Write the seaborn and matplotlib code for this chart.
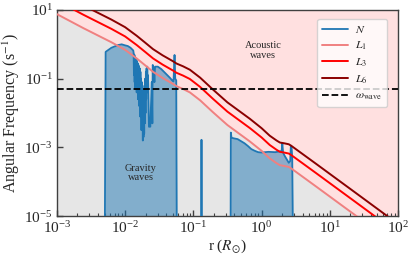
import numpy as np
import pandas as pd
import matplotlib
matplotlib.use("Agg")
import matplotlib.pyplot as plt
import seaborn as sns
from matplotlib.ticker import LogLocator, NullLocator, NullFormatter

# ---------------- data (log10 values) ----------------
lamb_logr = [-3.00, -2.80, -2.61, -2.40, -2.20, -2.00, -1.83, -1.70, -1.59, -1.45,
             -1.30, -1.245, -1.15, -1.05, -0.90, -0.71, -0.50, -0.17, 0.00, 0.12,
             0.22, 0.27, 0.33, 0.40, 0.44, 0.80, 1.37, 2.00]
L1_logf = [0.88, 0.67, 0.47, 0.26, 0.06, -0.16, -0.41, -0.62, -0.80, -0.98,
           -1.15, -1.22, -1.30, -1.40, -1.63, -1.98, -2.35, -2.83, -3.10, -3.32,
           -3.46, -3.52, -3.54, -3.57, -3.62, -4.14, -4.97, -5.89]
L3_logf = [1.27, 1.06, 0.86, 0.65, 0.45, 0.23, -0.02, -0.23, -0.41, -0.59,
           -0.76, -0.83, -0.91, -1.01, -1.24, -1.59, -1.96, -2.44, -2.71, -2.93,
           -3.07, -3.13, -3.15, -3.18, -3.23, -3.75, -4.58, -5.50]
L6_logf = [1.54, 1.33, 1.13, 0.92, 0.72, 0.50, 0.25, 0.04, -0.14, -0.32,
           -0.49, -0.56, -0.64, -0.74, -0.97, -1.32, -1.69, -2.17, -2.44, -2.66,
           -2.80, -2.86, -2.88, -2.91, -2.96, -3.48, -4.31, -5.23]

N_logr = [-3.00, -2.30, -2.285, -2.25, -2.20, -2.15, -2.10, -2.05, -2.00, -1.96,
          -1.92, -1.88, -1.875, -1.87, -1.865, -1.86, -1.855, -1.85, -1.845, -1.84,
          -1.835, -1.83, -1.825, -1.82, -1.815, -1.81, -1.805, -1.80, -1.795, -1.79,
          -1.785, -1.78, -1.775, -1.77, -1.765, -1.76, -1.755, -1.75, -1.745, -1.74,
          -1.735, -1.73, -1.725, -1.72, -1.715, -1.71, -1.705, -1.70, -1.695, -1.69,
          -1.685, -1.68, -1.675, -1.67, -1.665, -1.66, -1.65, -1.63, -1.61, -1.60,
          -1.595, -1.58, -1.57, -1.56, -1.52, -1.47, -1.42, -1.38, -1.34, -1.31,
          -1.29, -1.275, -1.265, -1.25, -1.24, -0.885, -0.88, -0.875, -0.455, -0.45,
          -0.44, -0.40, -0.35, -0.30, -0.25, -0.20, -0.15, -0.10, -0.05, 0.00,
          0.10, 0.20, 0.27, 0.295, 0.305, 0.315, 0.34, 0.37, 0.40, 0.42,
          0.43, 0.44, 0.45, 0.466, 2.00]
N_logf = [-7.0, -7.0, -0.22, -0.17, -0.10, -0.06, -0.02, 0.00, -0.03, -0.05,
          -0.10, -0.18, -0.25, -0.90, -0.30, -1.10, -0.35, -1.30, -0.40, -1.00,
          -0.45, -1.40, -0.50, -1.20, -0.55, -1.60, -0.60, -1.30, -0.65, -1.80,
          -0.70, -2.10, -0.80, -1.70, -1.00, -2.50, -1.10, -2.20, -1.30, -2.80,
          -1.50, -2.70, -1.40, -2.60, -1.20, -2.30, -1.00, -2.00, -0.80, -1.60,
          -0.70, -1.40, -0.65, -1.20, -0.90, -1.20, -2.40, -2.40, -1.10, -2.30,
          -0.60, -0.70, -1.10, -0.65, -0.65, -0.72, -0.82, -0.90, -0.98, -1.05,
          -1.08, -0.31, -1.00, -1.05, -7.0, -7.0, -2.78, -7.0, -7.0, -2.57,
          -2.72, -2.74, -2.76, -2.82, -2.88, -2.96, -3.05, -3.10, -3.14, -3.15,
          -3.13, -3.14, -3.12, -3.10, -2.88, -3.15, -3.25, -3.35, -3.45, -3.40,
          -2.95, -3.00, -3.30, -7.0, -7.0]

omega_wave = 0.05

# ---------------- style ----------------
sns.set_style("ticks")
plt.rcParams["font.family"] = ["Liberation Serif", "DejaVu Serif"]
plt.rcParams["mathtext.fontset"] = "stix"

fig = plt.figure(figsize=(4.15, 2.56), dpi=100)
ax = fig.add_axes([0.137, 0.156, 0.822, 0.805])

r_l = 10 ** np.array(lamb_logr)
L1 = 10 ** np.array(L1_logf)
L3 = 10 ** np.array(L3_logf)
L6 = 10 ** np.array(L6_logf)
r_n = 10 ** np.array(N_logr)
N = 10 ** np.array(N_logf)

ax.set_xscale("log")
ax.set_yscale("log")

# regions
ax.fill_between(r_l, 1e-7, L1, color="#e6e6e6", lw=0, zorder=0)
ax.fill_between(r_l, L1, 1e3, color="#ffe0e0", lw=0, zorder=0)
ax.fill_between(r_n, 1e-7, N, color="#1f77b4", alpha=0.5, lw=0, zorder=1)

dfN = pd.DataFrame({"r": r_n, "f": N})
sns.lineplot(data=dfN, x="r", y="f", ax=ax, color="#1f77b4", lw=1.3,
             sort=False, estimator=None, label=r"$N$", zorder=3)
for vals, col, lab in [(L1, "#f08080", r"$L_1$"), (L3, "red", r"$L_3$"),
                       (L6, "#8b0000", r"$L_6$")]:
    d = pd.DataFrame({"r": r_l, "f": vals})
    sns.lineplot(data=d, x="r", y="f", ax=ax, color=col, lw=1.4,
                 sort=False, estimator=None, label=lab, zorder=4)
ax.axhline(omega_wave, color="black", ls="--", lw=1.3, label=r"$\omega_{\rm wave}$",
           zorder=5)

ax.set_xlim(1e-3, 1e2)
ax.set_ylim(1e-5, 1e1)

ax.xaxis.set_major_locator(LogLocator(base=10, numticks=10))
ax.xaxis.set_minor_locator(LogLocator(base=10, subs=np.arange(2, 10), numticks=20))
ax.xaxis.set_minor_formatter(NullFormatter())
ax.set_yticks([1e-5, 1e-3, 1e-1, 1e1])
ax.yaxis.set_minor_locator(NullLocator())

ax.tick_params(axis="both", which="major", direction="in", length=4, width=1,
               labelsize=11, color="0.25", pad=3)
ax.tick_params(axis="both", which="minor", direction="in", length=2, width=0.8,
               color="0.25")
for s in ax.spines.values():
    s.set_color("0.25")
    s.set_linewidth(1.0)

ax.set_xlabel(r"r ($R_{\odot}$)", fontsize=11, labelpad=1)
ax.set_ylabel(r"Angular Frequency (s$^{-1}$)", fontsize=11.5, labelpad=2)

ax.text(1.05, 0.65, "Acoustic\nwaves", ha="center", va="center", fontsize=7.5,
        linespacing=1.1)
ax.text(0.017, 1.8e-4, "Gravity\nwaves", ha="center", va="center", fontsize=7.5,
        linespacing=1.1)

leg = ax.legend(loc="upper right", fontsize=8.5, frameon=True, fancybox=True,
                framealpha=0.8, borderpad=0.4, labelspacing=0.35,
                handlelength=2.2, handletextpad=0.6,
                bbox_to_anchor=(0.985, 0.985))
leg.get_frame().set_edgecolor("#cccccc")

fig.savefig("out.png", dpi=100)
